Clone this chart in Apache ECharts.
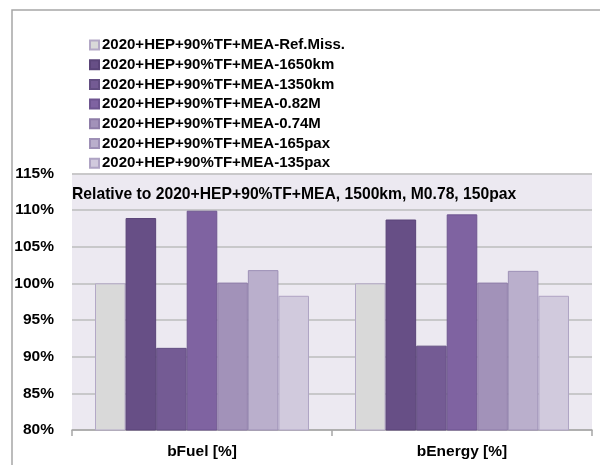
<!DOCTYPE html>
<html>
<head>
<meta charset="utf-8">
<script src="https://cdn.jsdelivr.net/npm/echarts@6/dist/echarts.min.js"></script>
<style>
  html, body { margin: 0; padding: 0; background: #ffffff; }
  #chart { width: 600px; height: 465px; }
</style>
</head>
<body>
<div id="chart"></div>
<script>
// Metrics on the category axis
const categories = ['bFuel [%]', 'bEnergy [%]'];

// Variant names (legend order)
const seriesNames = [
  '2020+HEP+90%TF+MEA-Ref.Miss.',
  '2020+HEP+90%TF+MEA-1650km',
  '2020+HEP+90%TF+MEA-1350km',
  '2020+HEP+90%TF+MEA-0.82M',
  '2020+HEP+90%TF+MEA-0.74M',
  '2020+HEP+90%TF+MEA-165pax',
  '2020+HEP+90%TF+MEA-135pax'
];

// Values in percent of the reference configuration
const refMiss  = [100.0, 100.0];
const km1650   = [108.9, 108.7];
const km1350   = [91.2, 91.5];
const mach082  = [109.9, 109.4];
const mach074  = [100.1, 100.1];
const pax165   = [101.8, 101.7];
const pax135   = [98.3, 98.3];
const seriesValues = [refMiss, km1650, km1350, mach082, mach074, pax165, pax135];

// Value-axis range
const yMin = 80, yMax = 115, yStep = 5;

const fills   = ['#D9D9D9', '#674F86', '#745B94', '#7F63A1', '#A292B9', '#BAAFCC', '#D1CADD'];
const borders = ['#B3A8C6', '#5A4478', '#634E82', '#6E5590', '#8E7DA8', '#9E90B6', '#AFA4C4'];

const FONT = 'Liberation Sans';

const chart = echarts.init(document.getElementById('chart'), null, { renderer: 'canvas' });

chart.setOption({
  backgroundColor: '#ffffff',
  animation: false,
  graphic: [
    {
      type: 'rect',
      shape: { x: 12, y: 10, width: 620, height: 480 },
      style: { fill: 'none', stroke: '#A6A6A6', lineWidth: 1.5 },
      z: 0
    },
    {
      type: 'text',
      left: 72,
      top: 187,
      style: {
        text: 'Relative to 2020+HEP+90%TF+MEA, 1500km, M0.78, 150pax',
        font: 'bold 15.7px "' + FONT + '"',
        fill: '#000000'
      },
      z: 10
    }
  ],
  legend: {
    orient: 'vertical',
    left: 84,
    top: 32,
    itemWidth: 9,
    itemHeight: 9,
    itemGap: 3.7,
    icon: 'rect',
    textStyle: { fontFamily: FONT, fontWeight: 'bold', fontSize: 15, lineHeight: 16, color: '#000000', padding: [0, 0, 0, -2] },
    data: seriesNames
  },
  grid: {
    left: 72,
    right: 8,
    top: 173.3,
    bottom: 35,
    show: true,
    backgroundColor: '#ECE9F1',
    borderWidth: 0
  },
  xAxis: {
    type: 'category',
    data: categories,
    axisLine: { lineStyle: { color: '#A6A6A6', width: 1.5 } },
    axisTick: { show: true, alignWithLabel: false, length: 6, lineStyle: { color: '#A6A6A6', width: 1.5 } },
    axisLabel: { fontFamily: FONT, fontWeight: 'bold', fontSize: 15.5, color: '#000000', margin: 14 }
  },
  yAxis: {
    type: 'value',
    min: yMin,
    max: yMax,
    interval: yStep,
    axisLine: { show: false },
    axisTick: { show: false },
    splitLine: { lineStyle: { color: '#BDBDBD', width: 1.5 } },
    axisLabel: { formatter: '{value}%', fontFamily: FONT, fontWeight: 'bold', fontSize: 15.5, color: '#000000', margin: 18 }
  },
  series: seriesNames.map((name, i) => ({
    name: name,
    type: 'bar',
    data: seriesValues[i],
    barGap: '0%',
    barCategoryGap: '17.7%',
    itemStyle: { color: fills[i], borderColor: borders[i], borderWidth: 1 }
  }))
});
</script>
</body>
</html>
